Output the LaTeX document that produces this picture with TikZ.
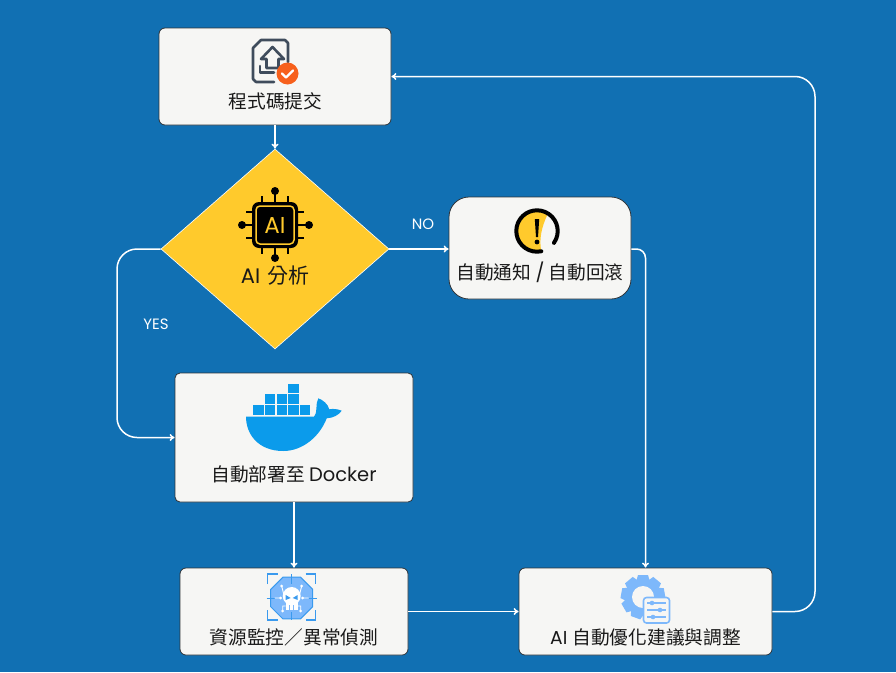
\documentclass[tikz,border=0pt]{standalone}
\usepackage{fontspec}
\setmainfont{Noto Sans CJK TC}
\newfontfamily\lat{Poppins}
\usetikzlibrary{shapes.geometric,arrows.meta}
\definecolor{bgblue}{HTML}{1170B3}
\definecolor{boxfill}{HTML}{F6F6F4}
\definecolor{boxline}{HTML}{2E3338}
\definecolor{gold}{HTML}{FFCA2C}
\definecolor{slate}{HTML}{3F4C5C}
\definecolor{orangedot}{HTML}{F7601C}
\definecolor{whale}{HTML}{0B9BEB}
\definecolor{softblue}{HTML}{7DB8FB}
\definecolor{iconblue}{HTML}{3A9AEE}
\tikzset{
	box/.style={draw=boxline,line width=0.8pt,fill=boxfill,inner sep=0pt},
	flow/.style={draw=white,line width=1.5pt,-{To[length=5pt,width=7pt]}},
	caption/.style={text=black!90,font=\fontsize{18.7}{22}\selectfont,inner sep=0pt},
	branch/.style={text=white,font=\lat\fontsize{15}{18}\selectfont,inner sep=0pt}
}
\begin{document}
\begin{tikzpicture}[x=1pt,y=-1pt]
	\useasboundingbox (0,0) rectangle (896,672);
	\fill[bgblue] (0,0) rectangle (896,672);

	\node[box,rounded corners=6pt,minimum width=232pt,minimum height=97pt] (commit) at (275,76.5) {};
	\node[draw=white,line width=0.6pt,fill=gold,shape=diamond,shape aspect=1.14,inner sep=0pt,minimum width=228pt,minimum height=200pt] (analyse) at (275,249) {};
	\node[box,rounded corners=20pt,minimum width=182pt,minimum height=102pt] (notify) at (540,248) {};
	\node[box,rounded corners=5pt,minimum width=238pt,minimum height=129pt] (deploy) at (294,437.5) {};
	\node[box,rounded corners=6pt,minimum width=228pt,minimum height=87pt] (monitor) at (294,611.5) {};
	\node[box,rounded corners=6pt,minimum width=253pt,minimum height=87pt] (optimise) at (645.5,611.5) {};

	\node[caption] (commitlabel) at (275.5,101) {程式碼提交};
	\node[caption,font=\fontsize{21}{25}\selectfont] (analyselabel) at (275,276) {{\lat AI}\hspace{2pt} 分析};
	\node[caption] (notifylabel) at (540,272) {自動通知 {\lat /} 自動回滾};
	\node[caption] (deploylabel) at (294,474) {自動部署至 {\lat\fontsize{19.5}{22}\selectfont Docker}};
	\node[caption] (monitorlabel) at (294,637) {資源監控／異常偵測};
	\node[caption] (optimiselabel) at (645.5,637) {{\lat AI}\hspace{1pt} 自動優化建議與調整};
	\node[branch] (nolabel) at (423,224) {NO};
	\node[branch] (yeslabel) at (156,324) {YES};

	\draw[flow] (commit.south)--(analyse.north);
	\draw[flow] (analyse.east)--(notify.west|-analyse.east);
	\draw[flow,rounded corners=20pt] (analyse.west)--(117,249)--(117,437.5)--(deploy.west);
	\draw[flow] (deploy.south)--(monitor.north);
	\draw[flow] (monitor.east)--(optimise.west);
	\draw[flow,rounded corners=9pt] (notify.east|-analyse.east)-|(optimise.north);
	\draw[flow,rounded corners=20pt] (optimise.east)--(815,611.5)--(815,76.5)--(commit.east);

	\begin{scope}[draw=slate,line width=2.6pt,line join=round,line cap=round]
		\draw (274,82)--(256,82)--(253,79)--(253,48)--(261,40)--(285,40)--(288,43)--(288,62);
		\draw (272.5,47)--(261,59)--(266.5,59)--(266.5,68)--(278.5,68)--(278.5,59)--(284,59)--cycle;
		\draw (260,66)--(260,72.5)--(274,72.5);
	\end{scope}
	\fill[orangedot] (287.5,73.5) circle (11);
	\draw[white,line width=2.4pt,line cap=round,line join=round] (282,73.5)--(286,77.5)--(293,70.5);

	\begin{scope}[black,line width=2.6pt]
		\foreach \d in {-13,0,13}{
			\draw (275+\d,196)--(275+\d,254);
			\draw (246,225+\d)--(304,225+\d);
		}
		\draw (275,191)--(275,200) (275,250)--(275,258) (242,225)--(250,225) (300,225)--(309,225);
		\fill (275,191) circle (4) (275,258) circle (4) (242,225) circle (4) (309,225) circle (4);
	\end{scope}
	\fill[black,rounded corners=7pt] (252,202) rectangle (298,248);
	\draw[gold,line width=1.5pt,rounded corners=4pt] (256,206) rectangle (294,244);
	\node[text=gold,font=\lat\fontsize{23}{27}\selectfont,inner sep=0pt] (chiplabel) at (275,225) {AI};

	\fill[gold] (537,231) ++(-58:20.7) arc[start angle=-58,end angle=-282,radius=20.7] .. controls (539,240) and (541,228) .. cycle;
	\draw[black,line width=4pt,line cap=round] (537,231) ++(35:20.7) arc[start angle=35,end angle=-282,radius=20.7];
	\fill[black] (534.8,219)--(539.2,219)--(538,237)--(536,237)--cycle;
	\fill[black] (537,242) circle (2.4);

	\begin{scope}[whale]
		\foreach \cx in {253.3,265,276.7,288.3,300}{
			\fill (\cx,405.3) rectangle +(10.4,9.2);
		}
		\foreach \cx in {265,276.7,288.3}{
			\fill (\cx,394.3) rectangle +(10.4,9.2);
		}
		\fill (288.3,384) rectangle +(10.4,9.3);
		\fill (246,416.7)--(314,416.7) .. controls (318,413) and (315,404) .. (318.3,398.3) .. controls (323,400) and (328,404) .. (329.3,409.3) .. controls (333,408.5) and (338,409) .. (341.7,410.7) .. controls (339,415) and (333,418) .. (326.7,418.3) .. controls (320,436) and (303,451) .. (283.3,451) .. controls (258,451) and (246,434) .. cycle;
	\end{scope}

	\begin{scope}[shift={(291.7,598)}]
		\fill[softblue,draw=iconblue,line width=1pt] (22.5:22.7)--(67.5:22.7)--(112.5:22.7)--(157.5:22.7)--(202.5:22.7)--(247.5:22.7)--(292.5:22.7)--(337.5:22.7)--cycle;
		\draw[iconblue,line width=1.4pt] (-24,-14)--(-24,-24)--(-14,-24) (14,-24)--(24,-24)--(24,-14) (24,12)--(24,22)--(14,22) (-14,22)--(-24,22)--(-24,12);
		\draw[iconblue,line width=1pt] (0,-24)--(0,-14) (0,14)--(0,22) (-25,0)--(-17,0) (17,0)--(25,0);
		\draw[white,line width=0.9pt] (-10,-12)--(-8,-4) (10,-12)--(8,-4) (-17,0)--(-10,0) (17,0)--(10,0) (-9,12)--(-9,8)--(-6,8) (9,12)--(9,8)--(6,8);
		\fill[white] (-10,-12) circle (1.5) (10,-12) circle (1.5) (-11,0) circle (1.5) (11,0) circle (1.5) (-9,13) circle (1.5) (9,13) circle (1.5);
		\fill[white] (0,-2) circle (9);
		\fill[white] (-6,2) rectangle (6,12);
		\fill[iconblue] (-6,-3)--(-1,0)--(-6,2)--cycle (6,-3)--(1,0)--(6,2)--cycle;
		\draw[softblue,line width=0.8pt] (-2,7)--(-2,12) (2,7)--(2,12);
	\end{scope}

	\begin{scope}[shift={(643,597)}]
		\foreach \a in {0,40,...,320}{
			\fill[softblue,rotate=\a] (-5,-22)--(5,-22)--(7,-15)--(-7,-15)--cycle;
		}
		\fill[softblue] (0,0) circle (17);
		\fill[boxfill] (0,0) circle (11);
	\end{scope}
	\draw[softblue,line width=1.6pt,fill=boxfill,rounded corners=3pt] (643.5,597.5) rectangle (669.5,623);
	\draw[softblue,line width=1.1pt] (647,603)--(666,603) (647,610)--(666,610) (647,617)--(666,617);
	\fill[softblue] (652,603) circle (2.3) (660,610) circle (2.3) (653,617) circle (2.3);
\end{tikzpicture}
\end{document}
